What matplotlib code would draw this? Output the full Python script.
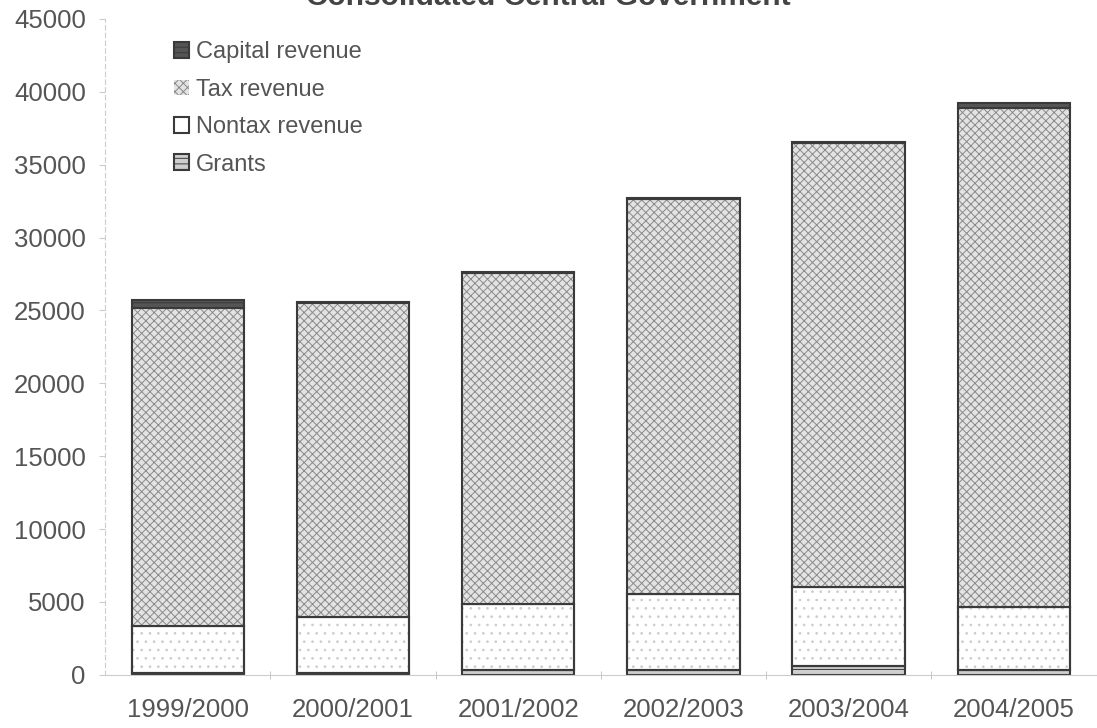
import matplotlib
matplotlib.use("Agg")
import matplotlib.pyplot as plt
import numpy as np

plt.rcParams['font.family'] = ['Liberation Sans', 'DejaVu Sans']
plt.rcParams['hatch.linewidth'] = 0.7

years = ['1999/2000', '2000/2001', '2001/2002', '2002/2003', '2003/2004', '2004/2005']
grants = [100, 100, 300, 300, 600, 300]
nontax = [3250, 3900, 4550, 5250, 5450, 4350]
tax = [21850, 21500, 22700, 27100, 30450, 34250]
capital = [500, 50, 100, 50, 50, 350]

x = np.arange(len(years))
w = 0.68
edge = '#3a3a3a'

fig, ax = plt.subplots(figsize=(10.97, 7.28), dpi=100)
fig.subplots_adjust(left=0.096, right=1.007, top=0.974, bottom=0.073)

b0 = np.zeros(len(years))
ax.bar(x, grants, w, bottom=b0, color='#cfcfcf', edgecolor=edge, hatch='---', lw=1.5, label='Grants')
b1 = b0 + np.array(grants)
ax.bar(x, nontax, w, bottom=b1, color='white', edgecolor=edge, lw=1.5, label='Nontax revenue')
ax.bar(x, nontax, w, bottom=b1, color='none', edgecolor='#cdcdcd', hatch='..', lw=0)
ax.bar(x, nontax, w, bottom=b1, color='none', edgecolor=edge, lw=1.5)
b2 = b1 + np.array(nontax)
ax.bar(x, tax, w, bottom=b2, color='#e3e3e3', edgecolor='#8a8a8a', hatch='xxxx', lw=0, label='Tax revenue')
ax.bar(x, tax, w, bottom=b2, color='none', edgecolor=edge, lw=1.5)
b3 = b2 + np.array(tax)
ax.bar(x, capital, w, bottom=b3, color='#555555', edgecolor=edge, hatch='---', lw=1.5, label='Capital revenue')

ax.set_xlim(-0.5, len(years) - 0.45)
ax.set_ylim(0, 45000)
ax.set_yticks(np.arange(0, 45001, 5000))
ax.set_xticks(x)
ax.set_xticklabels(years)
ax.set_xticks(np.arange(0.5, len(years) - 0.5, 1), minor=True)
ax.tick_params(axis='x', which='major', length=0, pad=17, labelsize=18.5, labelcolor='#555555')
ax.tick_params(axis='x', which='minor', length=6, direction='inout', color='#bbbbbb')
ax.tick_params(axis='y', length=4, color='#cccccc', labelsize=18.5, labelcolor='#555555', pad=10)

for s in ['top', 'right']:
    ax.spines[s].set_visible(False)
ax.spines['left'].set_color('#cccccc')
ax.spines['left'].set_linestyle((0, (4, 3)))
ax.spines['bottom'].set_color('#cccccc')

h, l = ax.get_legend_handles_labels()
ax.legend(h[::-1], l[::-1], loc='upper left', bbox_to_anchor=(0.047, 0.998), frameon=False,
          fontsize=17, labelcolor='#555555', handlelength=0.65, handleheight=0.65,
          handletextpad=0.3, labelspacing=0.65)

# title sits mostly above the top edge, as in the scanned original
fig.text(0.50, 0.993, 'Consolidated Central Government', ha='center', va='baseline',
         fontsize=21.5, fontweight='bold', color='#444444')

fig.savefig('out.png')
